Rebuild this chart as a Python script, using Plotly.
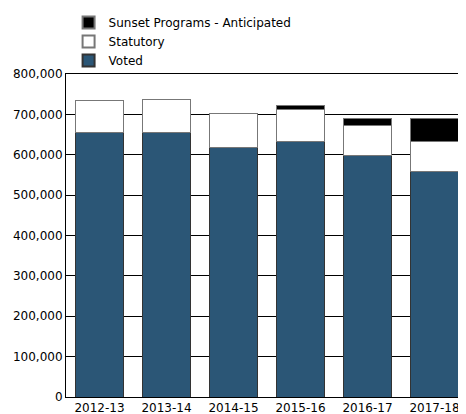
import plotly.graph_objects as go

years = ["2012-13", "2013-14", "2014-15", "2015-16", "2016-17", "2017-18"]
voted = [656000, 654000, 618000, 634000, 598000, 558000]
statutory = [79000, 84000, 85000, 77000, 75000, 75000]
sunset = [0, 0, 0, 11000, 18000, 58000]

fig = go.Figure()
fig.add_bar(x=years, y=voted, name="Voted", marker=dict(color="#2b5676", line=dict(color="#333333", width=1)))
fig.add_bar(x=years, y=statutory, name="Statutory", marker=dict(color="white", line=dict(color="#777777", width=1)))
fig.add_bar(x=years, y=sunset, name="Sunset Programs - Anticipated", marker=dict(color="black", line=dict(color="#777777", width=1)))

fig.update_layout(
    barmode="stack", bargap=0.28,
    width=466, height=414,
    margin=dict(l=58, r=6, t=66, b=25, autoexpand=False),
    plot_bgcolor="white", paper_bgcolor="white",
    font=dict(family="DejaVu Sans", size=12, color="black"),
    legend=dict(x=0.13, y=1.0, xref="container", yref="container", xanchor="left", yanchor="top",
                traceorder="reversed", font=dict(size=12), itemsizing="constant",
                tracegroupgap=0, bgcolor="rgba(0,0,0,0)"),
    xaxis=dict(showline=True, linecolor="black", mirror=True, ticks="", automargin=False),
    yaxis=dict(range=[0, 800000], dtick=100000, tickformat=",", showgrid=True, automargin=False,
               gridcolor="black", gridwidth=1, showline=True, linecolor="black", mirror=True),
)
fig.write_html("out.html")
